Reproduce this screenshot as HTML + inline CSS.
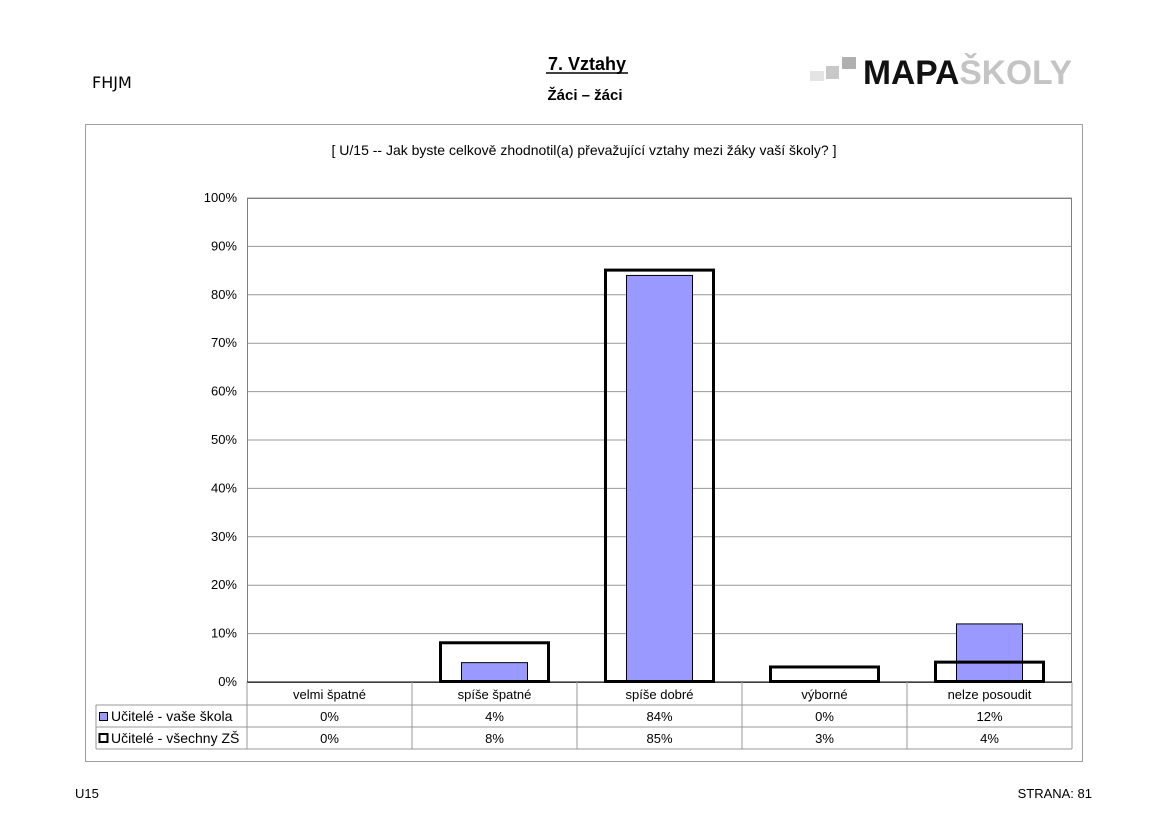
<!DOCTYPE html>
<html><head><meta charset="utf-8"><style>
body{margin:0;background:#fff;font-family:"Liberation Sans",sans-serif}
#wrap{position:relative;width:1169px;height:827px;overflow:hidden}
</style></head><body>
<div id="wrap">
<svg id="svg" width="1169" height="827" xmlns="http://www.w3.org/2000/svg" font-family="Liberation Sans, sans-serif">
<text x="92" y="88" font-family="DejaVu Sans, sans-serif" font-size="16">FHJM</text>
<text x="587" y="70" font-size="18" font-weight="bold" text-anchor="middle">7. Vztahy</text>
<line x1="546" y1="73" x2="628" y2="73" stroke="#000" stroke-width="1.5"/>
<text x="585" y="100" font-size="15" font-weight="bold" text-anchor="middle">Žáci – žáci</text>
<g>
<rect x="810" y="71" width="14" height="10" fill="#e4e4e4"/>
<rect x="826" y="66" width="13" height="13" fill="#c8c8c8"/>
<rect x="842" y="57" width="14" height="12" fill="#b0b0b0"/>
<text x="863" y="84" font-size="34" font-weight="bold" fill="#111" textLength="209" lengthAdjust="spacingAndGlyphs">MAPA<tspan fill="#c4c4c4">ŠKOLY</tspan></text>
</g>
<rect x="85.5" y="124.5" width="997" height="637" fill="none" stroke="#a0a0a0"/>
<text x="584" y="155" font-size="14" text-anchor="middle">[ U/15 -- Jak byste celkově zhodnotil(a) převažující vztahy mezi žáky vaší školy? ]</text>
<g id="chart"></g>
<text x="75" y="798" font-size="13">U15</text>
<text x="1092" y="798" font-size="13" text-anchor="end">STRANA: 81</text>
</svg>
</div>
<script>
const categories=["velmi špatné","spíše špatné","spíše dobré","výborné","nelze posoudit"];
const schoolValues=[0,4,84,0,12];
const allValues=[0,8,85,3,4];
const yTicks=[0,10,20,30,40,50,60,70,80,90,100];
const seriesNames=["Učitelé - vaše škola","Učitelé - všechny ZŠ"];
const NS="http://www.w3.org/2000/svg";
const g=document.getElementById('chart');
const L=247,R=1072,T=198,B=682;
const cw=(R-L)/categories.length;
const y=v=>B-(B-T)*v/100;
const xc=i=>L+cw*(i+0.5);
function mk(t,a,txt){const e=document.createElementNS(NS,t);for(const k in a)e.setAttribute(k,a[k]);if(txt!==undefined)e.textContent=txt;g.appendChild(e);return e;}
yTicks.forEach(v=>{
 const l=mk('line',{x1:L,x2:R,y1:y(v),y2:y(v),stroke:'#999','stroke-width':1});
 
 
 const t=mk('text',{x:L-10,y:y(v)+4,'font-size':13,'text-anchor':'end'},v+'%');
 
 
});
mk('rect',{x:L+0.5,y:T+0.5,width:R-L-1,height:B-T,fill:'none',stroke:'#808080'});
categories.forEach((c,i)=>{
 if(schoolValues[i]>0){
 const b=mk('rect',{x:xc(i)-33,y:y(schoolValues[i]),width:66,height:B-y(schoolValues[i]),fill:'#9999ff',stroke:'#000','stroke-width':1});
 
 
 }
});
categories.forEach((c,i)=>{
 if(allValues[i]>0){
 const o=mk('rect',{x:xc(i)-54,y:y(allValues[i])-0.5,width:108,height:B-y(allValues[i]),fill:'none',stroke:'#000','stroke-width':3});
 
 
 }
});
mk('line',{x1:L,x2:R,y1:B,y2:B,stroke:'#000'});
const rows=[705,727,749];
rows.forEach(r=>mk('line',{x1:96,x2:R,y1:r,y2:r,stroke:'#999'}));
mk('line',{x1:96,x2:96,y1:rows[0],y2:rows[2],stroke:'#999'});
for(let i=0;i<=categories.length;i++)mk('line',{x1:L+cw*i,x2:L+cw*i,y1:B,y2:rows[2],stroke:'#999'});
categories.forEach((c,i)=>{
 const t=mk('text',{x:xc(i),y:699,'font-size':13,'text-anchor':'middle'},c);
 
 
 const a=mk('text',{x:xc(i),y:721,'font-size':13,'text-anchor':'middle'},schoolValues[i]+'%');
 
 
 const b=mk('text',{x:xc(i),y:743,'font-size':13,'text-anchor':'middle'},allValues[i]+'%');
 
 
});
const k1=mk('rect',{x:99.5,y:712.5,width:8,height:8,fill:'#9999ff',stroke:'#000'});


const k2=mk('rect',{x:99.5,y:734,width:8,height:8,fill:'#fff',stroke:'#000','stroke-width':2});


const l1=mk('text',{x:111,y:721,'font-size':14},seriesNames[0]);


const l2=mk('text',{x:111,y:743,'font-size':14},seriesNames[1]);


</script>
</body></html>
